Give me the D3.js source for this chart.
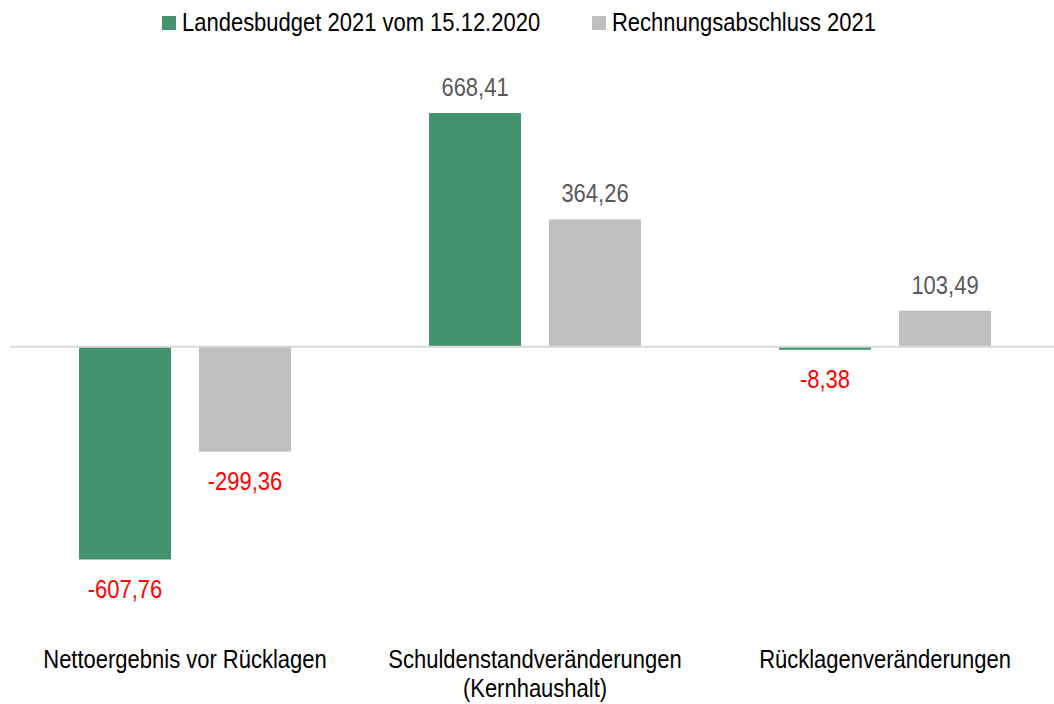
<!DOCTYPE html>
<html lang="de">
<head>
<meta charset="utf-8">
<style>
  body { margin: 0; background: #fff; }
  text { font-family: "Liberation Sans", Arial, sans-serif; }
</style>
<script src="https://d3js.org/d3.v7.min.js"></script>
</head>
<body>
<script>
  let categories = [
    ["Nettoergebnis vor Rücklagen"],
    ["Schuldenstandveränderungen", "(Kernhaushalt)"],
    ["Rücklagenveränderungen"]
  ];
  let seriesNames = ["Landesbudget 2021 vom 15.12.2020", "Rechnungsabschluss 2021"];
  let budget = [-607.76, 668.41, -8.38];
  let abschluss = [-299.36, 364.26, 103.49];
  let colors = ["#43936e", "#bfbfbf"];

  let width = 1054, height = 704;
  let stretch = 1.15;
  let svg = d3.select("body").append("svg")
    .attr("width", width)
    .attr("height", height);

  // text is drawn slightly taller than wide, like the original
  function place(x, y) {
    return "translate(" + x + "," + y + ") scale(1," + stretch + ")";
  }

  let x0 = d3.scaleBand()
    .domain(d3.range(categories.length))
    .range([10, 1060]);

  let x1 = d3.scaleBand()
    .domain([0, 1])
    .range([69, 281])
    .paddingInner(0.233);

  let y = d3.scaleLinear()
    .domain([-607.76, 668.41])
    .range([559.5, 113]);

  let fmt = v => d3.format(".2f")(Math.abs(v)).replace(".", ",");
  let series = [budget, abschluss];

  series.forEach(function(vals, s) {
    svg.append("g").selectAll("rect")
      .data(vals)
      .join("rect")
      .attr("x", (d, i) => x0(i) + x1(s))
      .attr("width", x1.bandwidth())
      .attr("y", d => y(Math.max(0, d)))
      .attr("height", d => Math.max(2, Math.abs(y(d) - y(0))))
      .attr("fill", colors[s]);

    svg.append("g").selectAll("text")
      .data(vals)
      .join("text")
      .attr("transform", (d, i) => place(
        x0(i) + x1(s) + x1.bandwidth() / 2,
        d >= 0 ? y(d) - 17 : Math.max(y(d), y(0) + 2) + 38))
      .attr("text-anchor", "middle")
      .attr("font-size", 22)
      .attr("fill", d => d >= 0 ? "#595959" : "#ff0000")
      .text(d => (d < 0 ? "-" : "") + fmt(d));
  });

  // zero line
  svg.append("line")
    .attr("x1", 10).attr("x2", width)
    .attr("y1", y(0)).attr("y2", y(0))
    .attr("stroke", "#d9d9d9")
    .attr("stroke-width", 2);

  // category labels
  categories.forEach(function(lines, i) {
    svg.append("g").selectAll("text")
      .data(lines)
      .join("text")
      .attr("transform", (d, j) => place(x0(i) + x0.bandwidth() / 2, 668 + j * 29))
      .attr("text-anchor", "middle")
      .attr("font-size", 22)
      .attr("fill", "#000")
      .text(d => d);
  });

  // legend
  let legendX = [162, 592];
  let legend = svg.append("g").selectAll("g")
    .data(seriesNames)
    .join("g")
    .attr("transform", (d, i) => "translate(" + legendX[i] + ",0)");
  legend.append("rect")
    .attr("x", 0).attr("y", 16)
    .attr("width", 14).attr("height", 14)
    .attr("fill", (d, i) => colors[i]);
  legend.append("text")
    .attr("transform", place(20, 31))
    .attr("font-size", 22)
    .attr("fill", "#000")
    .text(d => d);
</script>
</body>
</html>
